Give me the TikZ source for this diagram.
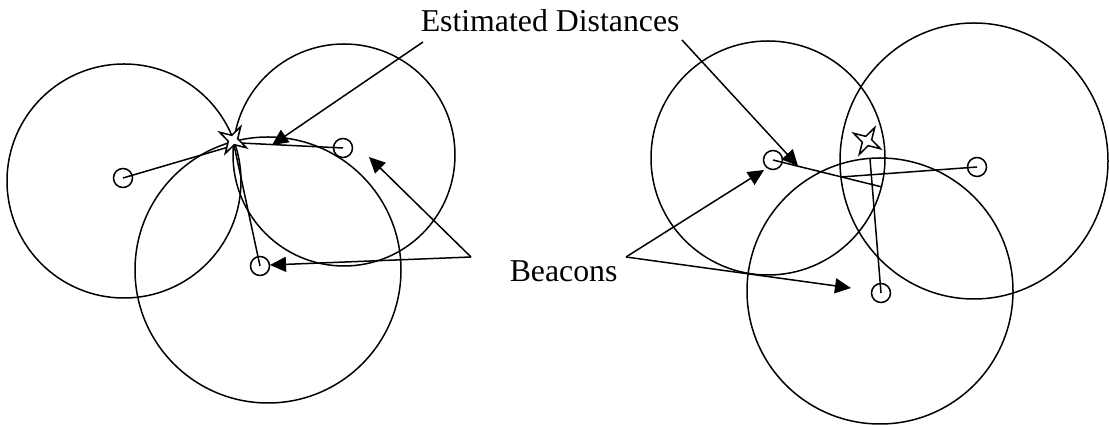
\documentclass[tikz,border=0pt]{standalone}
\usepackage{fontspec}
\setmainfont{Liberation Serif}
\usetikzlibrary{arrows.meta,shapes.geometric}
\begin{document}
\begin{tikzpicture}[x=0.5pt,y=-0.5pt,line width=0.75pt,
  beacon/.style={circle,draw,minimum size=9.5pt,inner sep=0pt},
  estar/.style={star,star points=4,star point ratio=3.2,minimum size=15.5pt,inner sep=0pt,draw,fill=white,rotate=-30},
  callout/.style={-{Triangle[length=8pt,width=7.5pt]}},
  lbl/.style={font=\fontsize{15.9}{19}\selectfont,inner sep=0pt,anchor=base west}]
\useasboundingbox (0,0) rectangle (1109,426);
% range circles
\draw (124,181) circle [radius=58.5pt];
\draw (344,155) circle [radius=55.5pt];
\draw (268,270) circle [radius=66.5pt];
\draw (768,158) circle [radius=58.5pt];
\draw (974,161) ellipse [x radius=67pt,y radius=69pt];
\draw (880,291) circle [radius=66.5pt];
% beacons
\node[beacon] (bA) at (123,178) {};
\node[beacon] (bB) at (343,148) {};
\node[beacon] (bC) at (260,266) {};
\node[beacon] (bD) at (773,160) {};
\node[beacon] (bE) at (977,167) {};
\node[beacon] (bF) at (881,293) {};
% distance ends
\coordinate (eA) at (232,146);
\coordinate (eB) at (240,143);
\coordinate (eC) at (234,145);
\coordinate (eD) at (882,187);
\coordinate (eE) at (841,177);
\coordinate (eF) at (870,159);
\draw (bA.center) -- (eA);
\draw (bB.center) -- (eB);
\draw (bC.center) -- (eC);
\draw (bD.center) -- (eD);
\draw (bE.center) -- (eE);
\draw (bF.center) -- (eF);
% stars
\node[estar] (sL) at (233,140) {};
\node[estar] (sR) at (867,141) {};
% labels
\node[lbl] (est) at (420,32) {Estimated Distances};
\node[lbl] (bea) at (509,282) {Beacons};
% callouts
\coordinate (eL0) at (423,42);
\coordinate (eR0) at (682,40);
\coordinate (eL1) at (272,145);
\coordinate (eR1) at (798,166);
\draw[callout] (eL0) -- (eL1);
\draw[callout] (eR0) -- (eR1);
\coordinate (bL0) at (471,257);
\coordinate (bR0) at (626,257);
\coordinate (bL1) at (369,157);
\coordinate (bL2) at (270,265);
\coordinate (bR1) at (764,170);
\coordinate (bR2) at (851,288);
\draw[callout] (bL0) -- (bL1);
\draw[callout] (bL0) -- (bL2);
\draw[callout] (bR0) -- (bR1);
\draw[callout] (bR0) -- (bR2);
\end{tikzpicture}
\end{document}
